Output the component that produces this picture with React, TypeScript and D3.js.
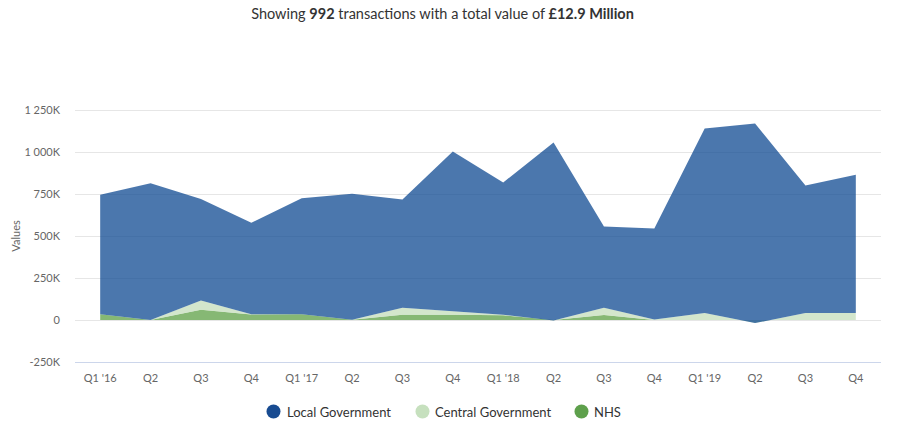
import React from "react";
import * as d3 from "d3";

const categories = ["Q1 '16", "Q2", "Q3", "Q4", "Q1 '17", "Q2", "Q3", "Q4", "Q1 '18", "Q2", "Q3", "Q4", "Q1 '19", "Q2", "Q3", "Q4"];
// values in thousands of GBP
const localGovernment = [712, 815, 605, 546, 692, 750, 644, 953, 788, 1061, 484, 542, 1100, 1190, 760, 824];
const centralGovernment = [0, 0, 54, 1, 0, 0, 42, 20, 4, -3, 44, 4, 42, -18, 42, 42];
const nhs = [34, 1, 62, 33, 34, 2, 32, 32, 28, 0, 30, 0, 0, 0, 0, 0];
const yTicks = [-250, 0, 250, 500, 750, 1000, 1250];
const seriesNames = ["Local Government", "Central Government", "NHS"];
const seriesColors = ["#0f4a91", "#c4debb", "#5ea046"];

const W = 899;
const H = 432;
const FONT = "Lato, 'Open Sans', sans-serif";

export default function App() {
  const plotLeft = 75;
  const plotRight = 881;
  const x = d3
    .scalePoint<number>()
    .domain(d3.range(categories.length))
    .range([plotLeft, plotRight])
    .padding(0.5);
  const y = d3.scaleLinear().domain([-250, 1250]).range([362, 110.3]);

  // stack order bottom -> top: NHS, Central, Local
  const layers = [nhs, centralGovernment, localGovernment];
  const layerIdx = [2, 1, 0];
  const stacked: { lo: number; hi: number }[][] = [];
  const cum = categories.map(() => 0);
  layers.forEach((arr) => {
    const s = arr.map((v, i) => {
      const lo = cum[i];
      const hi = cum[i] + v;
      cum[i] = hi;
      return { lo, hi };
    });
    stacked.push(s);
  });

  const area = d3
    .area<{ lo: number; hi: number }>()
    .x((_, i) => x(i) as number)
    .y0((d) => y(d.lo))
    .y1((d) => y(d.hi));

  const fmt = (v: number) => {
    if (v === 0) return "0";
    const a = Math.abs(v);
    const s = a >= 1000 ? `${Math.floor(a / 1000)} ${String(a % 1000).padStart(3, "0")}` : `${a}`;
    return `${v < 0 ? "-" : ""}${s}K`;
  };

  const legendItems = [
    { name: seriesNames[0], color: "#184b91", cx: 273.5, tx: 287 },
    { name: seriesNames[1], color: "#c6e0be", cx: 422.5, tx: 435 },
    { name: seriesNames[2], color: "#5ea04c", cx: 581.5, tx: 594 },
  ];

  return (
    <svg
      width={W}
      height={H}
      style={{ position: "absolute", left: 0, top: 0, background: "#fff" }}
      fontFamily={FONT}
    >
      <text x={442.5} y={19} textAnchor="middle" fontSize={14.5} fill="#333">
        Showing <tspan fontWeight="bold">992</tspan> transactions with a total value of{" "}
        <tspan fontWeight="bold">£12.9 Million</tspan>
      </text>

      {yTicks.map((t) => (
        <g key={t}>
          <line
            x1={plotLeft}
            x2={plotRight}
            y1={Math.round(y(t)) + 0.5}
            y2={Math.round(y(t)) + 0.5}
            stroke={t === -250 ? "#ccd6eb" : "#e6e6e6"}
            strokeWidth={1}
          />
          <text x={60} y={y(t) + 4} textAnchor="end" fontSize={11} fill="#666">
            {fmt(t)}
          </text>
        </g>
      ))}

      <text
        transform={`translate(20,236) rotate(-90)`}
        textAnchor="middle"
        fontSize={11}
        fill="#666"
      >
        Values
      </text>

      {stacked.map((s, k) => (
        <path
          key={k}
          d={area(s) || ""}
          fill={seriesColors[layerIdx[k]]}
          fillOpacity={0.75}
        />
      ))}

      {categories.map((c, i) => (
        <text key={i} x={x(i) as number} y={382} textAnchor="middle" fontSize={11} fill="#666">
          {c}
        </text>
      ))}

      {legendItems.map((l) => (
        <g key={l.name}>
          <circle cx={l.cx} cy={411.5} r={7} fill={l.color} />
          <text x={l.tx} y={416.5} fontSize={13} fill="#333">
            {l.name}
          </text>
        </g>
      ))}
    </svg>
  );
}
